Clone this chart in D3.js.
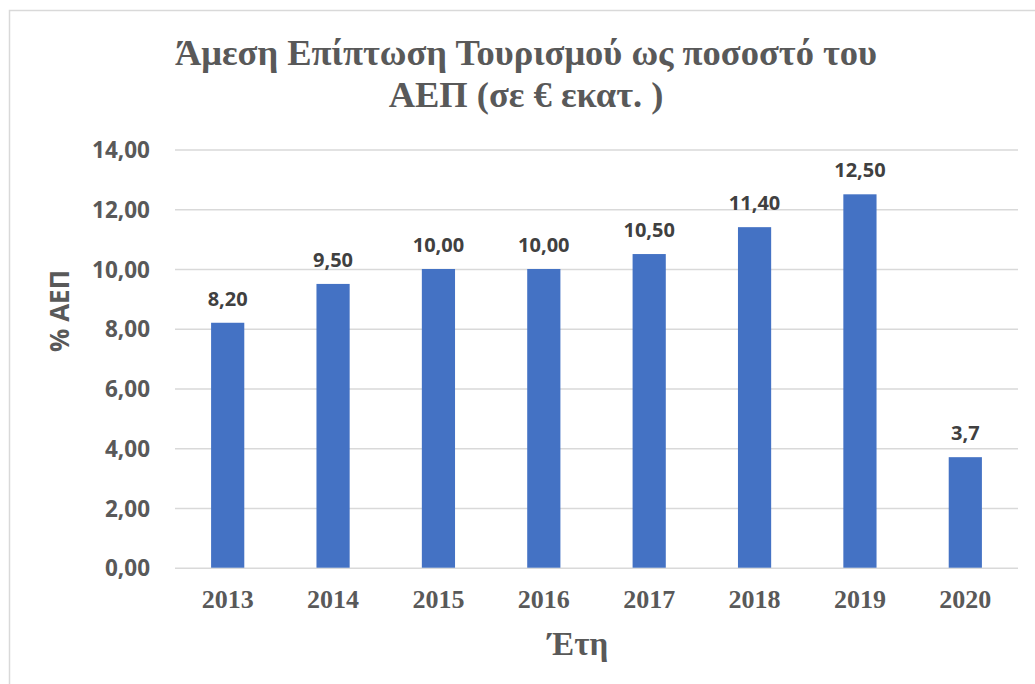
<!DOCTYPE html>
<html>
<head>
<meta charset="utf-8">
<script src="https://cdn.jsdelivr.net/npm/d3@7"></script>
<style>
  html, body { margin: 0; padding: 0; background: #fff; }
  #chart { width: 1035px; height: 684px; }
</style>
</head>
<body>
<div id="chart"></div>
<script>
const years = ['2013', '2014', '2015', '2016', '2017', '2018', '2019', '2020']
const values = [8.2, 9.5, 10.0, 10.0, 10.5, 11.4, 12.5, 3.7]
const valueLabels = ['8,20', '9,50', '10,00', '10,00', '10,50', '11,40', '12,50', '3,7']
const yTicks = [0, 2, 4, 6, 8, 10, 12, 14]
const titleLines = ['Άμεση Επίπτωση Τουρισμού ως ποσοστό του', 'ΑΕΠ (σε € εκατ. )']
const yTitle = '% ΑΕΠ'
const xTitle = 'Έτη'

const SIZE = Object.freeze({
  WIDTH: 1035,
  HEIGHT: 684,
  LEFT: 175,
  RIGHT: 1018,
  TOP: 149.5,
  BOTTOM: 567.7,
})
const SANS = '"Open Sans", "DejaVu Sans", sans-serif'
const SERIF = '"Liberation Serif", "DejaVu Serif", serif'

const buildChart = () => {
  const svg = d3.select('#chart')
    .append('svg')
    .attr('width', SIZE.WIDTH)
    .attr('height', SIZE.HEIGHT)

  // chart frame
  svg.append('rect')
    .attr('x', 9.5)
    .attr('y', 10.5)
    .attr('width', SIZE.WIDTH + 20)
    .attr('height', SIZE.HEIGHT + 20)
    .attr('fill', '#fff')
    .attr('stroke', '#d9d9d9')
    .attr('stroke-width', 1.5)

  const xScale = d3.scaleBand()
    .domain(years)
    .range([SIZE.LEFT, SIZE.RIGHT])
    .paddingInner(0.685)
    .paddingOuter(0.3425)

  const yScale = d3.scaleLinear()
    .domain([0, 14])
    .range([SIZE.BOTTOM, SIZE.TOP])

  // gridlines
  const yGrid = d3.axisLeft(yScale)
    .tickValues(yTicks)
    .tickSize(-(SIZE.RIGHT - SIZE.LEFT))
    .tickFormat('')
  svg.append('g')
    .attr('transform', `translate(${SIZE.LEFT}, 0)`)
    .call(yGrid)
    .call(g => g.select('.domain').remove())
    .call(g => g.selectAll('line').attr('stroke', '#d9d9d9').attr('stroke-width', 1.5))

  // y tick labels
  const yAxis = d3.axisLeft(yScale)
    .tickValues(yTicks)
    .tickSize(0)
    .tickPadding(25)
    .tickFormat(d => d3.format('.2f')(d).replace('.', ','))
  svg.append('g')
    .attr('transform', `translate(${SIZE.LEFT}, 0)`)
    .call(yAxis)
    .call(g => g.select('.domain').remove())
    .call(g => g.selectAll('text')
      .attr('fill', '#595959')
      .attr('dy', '0.36em')
      .style('font-family', SANS)
      .style('font-weight', 'bold')
      .style('font-size', '22.5px'))

  // x tick labels
  const xAxis = d3.axisBottom(xScale)
    .tickSize(0)
    .tickPadding(22)
  svg.append('g')
    .attr('transform', `translate(0, ${SIZE.BOTTOM})`)
    .call(xAxis)
    .call(g => g.select('.domain').remove())
    .call(g => g.selectAll('text')
      .attr('fill', '#595959')
      .style('font-family', SERIF)
      .style('font-weight', 'bold')
      .style('font-size', '26px'))

  // bars
  svg.selectAll('rect.bar')
    .data(values)
    .enter()
    .append('rect')
    .attr('class', 'bar')
    .attr('x', (d, i) => xScale(years[i]))
    .attr('y', d => yScale(d))
    .attr('width', xScale.bandwidth())
    .attr('height', d => SIZE.BOTTOM - yScale(d))
    .attr('fill', '#4472c4')

  // data labels
  svg.selectAll('text.value')
    .data(values)
    .enter()
    .append('text')
    .attr('class', 'value')
    .attr('x', (d, i) => xScale(years[i]) + xScale.bandwidth() / 2)
    .attr('y', d => yScale(d) - 17)
    .attr('text-anchor', 'middle')
    .attr('fill', '#404040')
    .style('font-family', SANS)
    .style('font-weight', 'bold')
    .style('font-size', '20px')
    .text((d, i) => valueLabels[i])

  // title
  svg.append('text')
    .attr('text-anchor', 'middle')
    .attr('fill', '#595959')
    .style('font-family', SERIF)
    .style('font-weight', 'bold')
    .style('font-size', '36.5px')
    .selectAll('tspan')
    .data(titleLines)
    .enter()
    .append('tspan')
    .attr('x', 526)
    .attr('y', (d, i) => 65 + i * 42)
    .text(d => d)

  // axis titles
  svg.append('text')
    .attr('transform', 'translate(69, 311) rotate(-90)')
    .attr('text-anchor', 'middle')
    .attr('fill', '#595959')
    .style('font-family', SANS)
    .style('font-weight', 'bold')
    .style('font-size', '26px')
    .text(yTitle)

  svg.append('text')
    .attr('x', 578)
    .attr('y', 655)
    .attr('text-anchor', 'middle')
    .attr('fill', '#595959')
    .style('font-family', SERIF)
    .style('font-weight', 'bold')
    .style('font-size', '33px')
    .text(xTitle)
}

document.addEventListener('DOMContentLoaded', () => {
  buildChart()
})
</script>
</body>
</html>
